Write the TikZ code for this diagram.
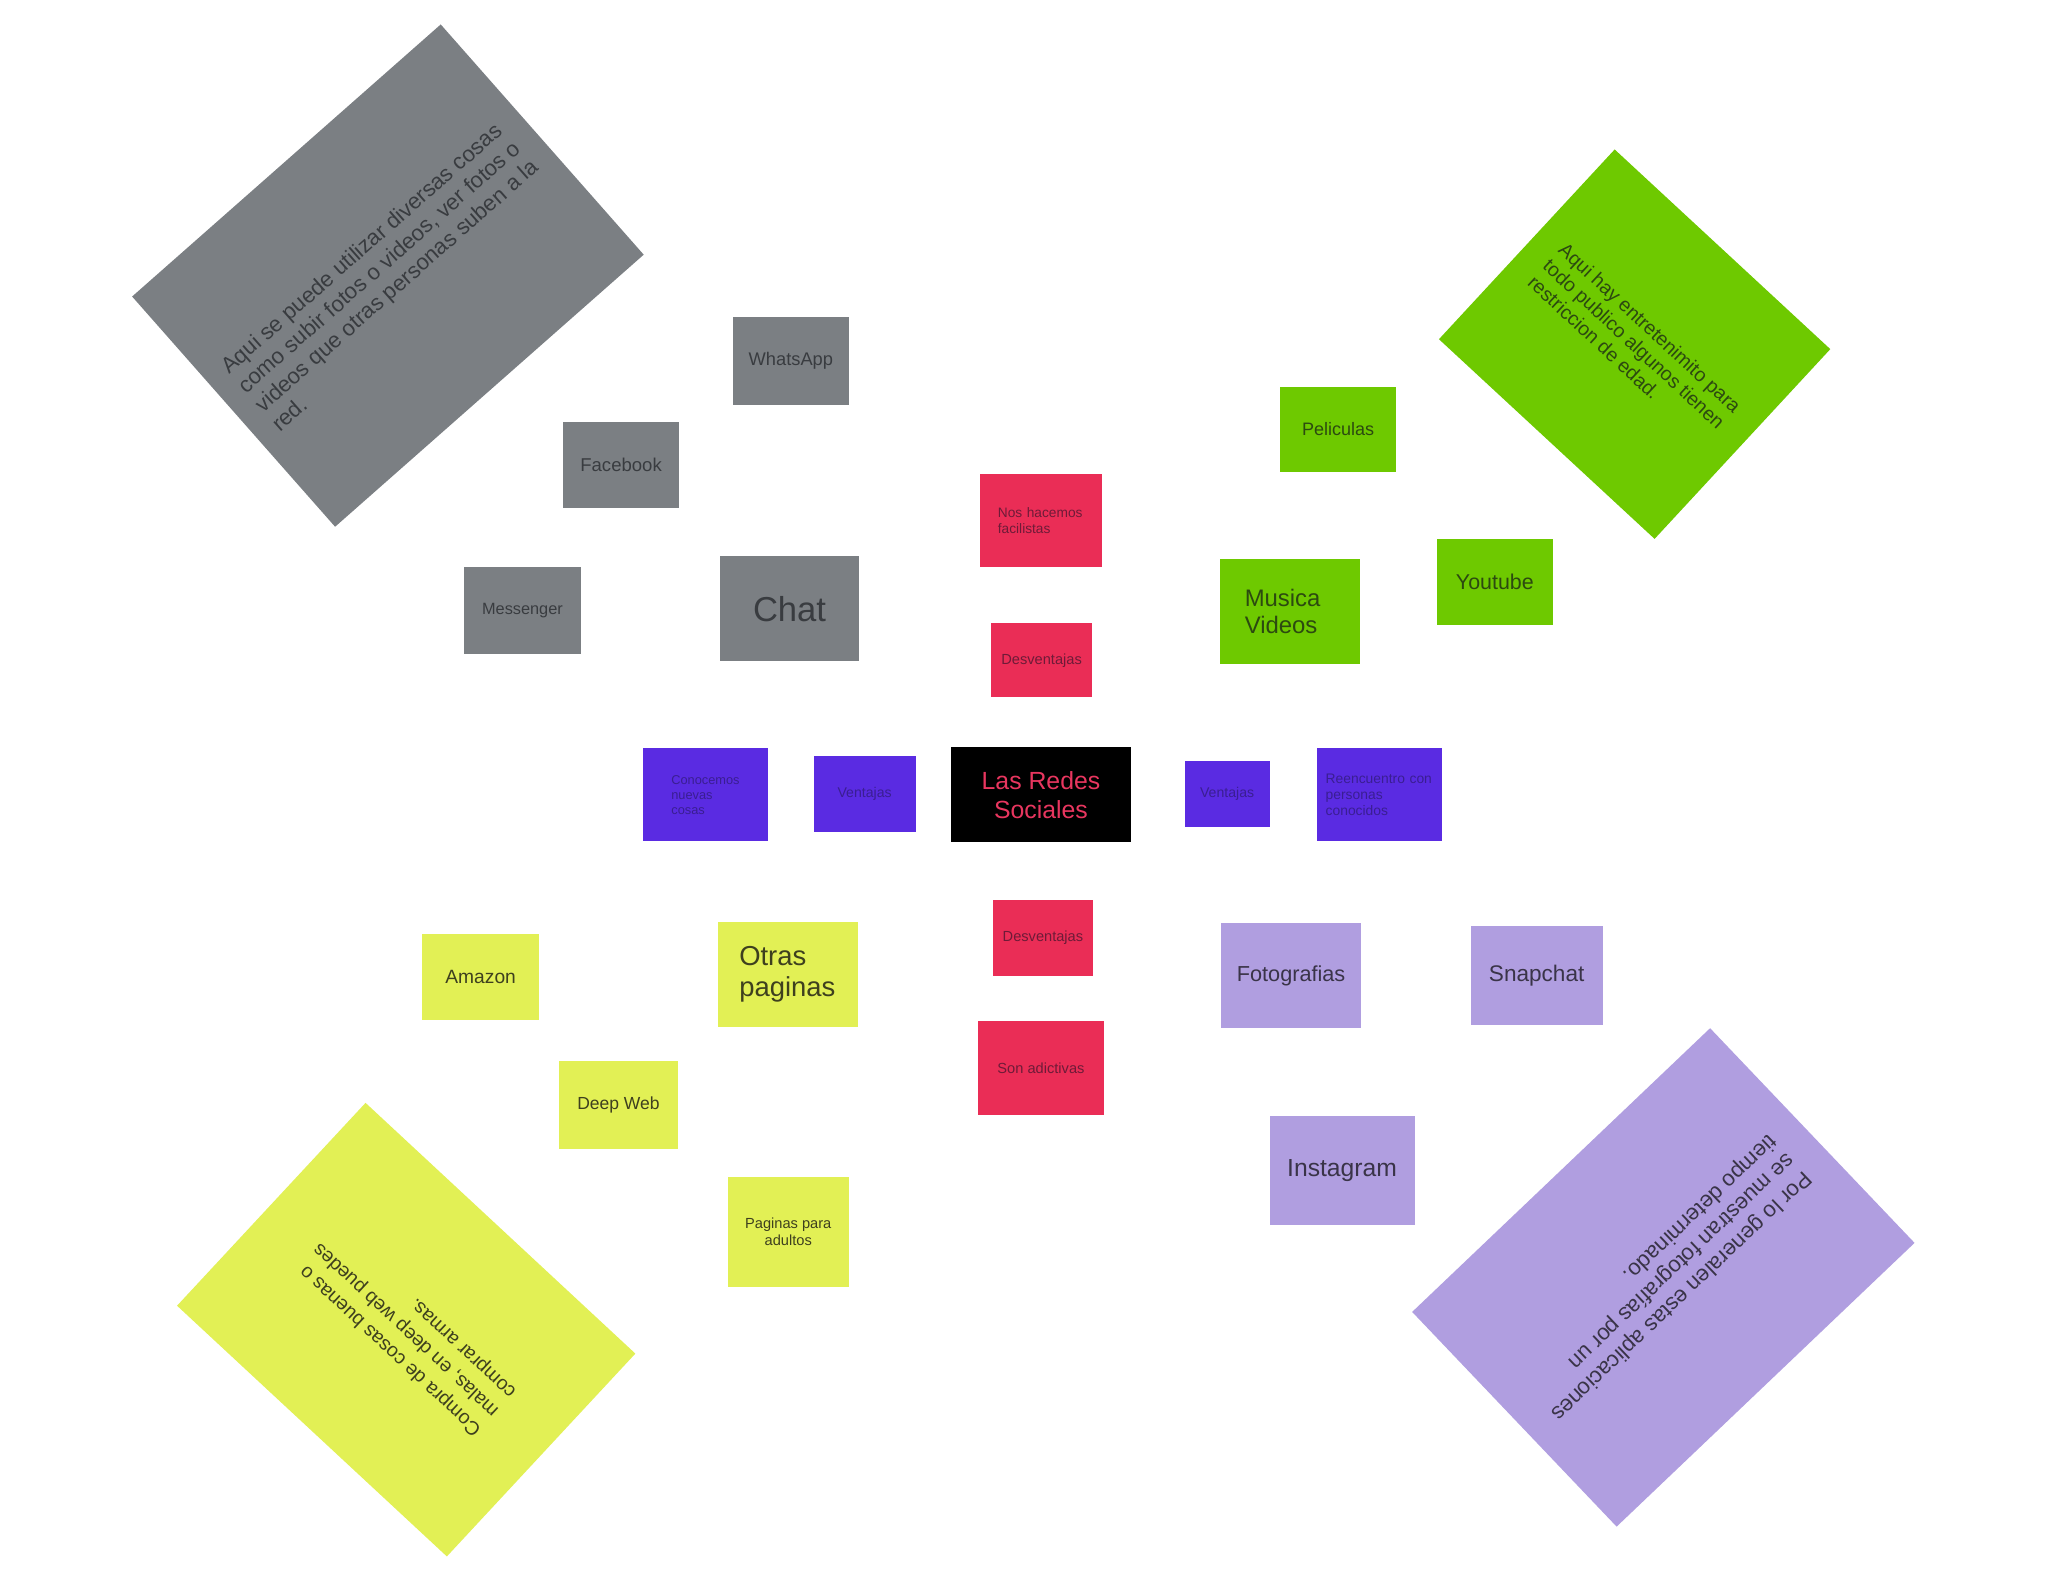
\documentclass[tikz,border=0pt]{standalone}
\usepackage{fontspec}
\setmainfont{Liberation Sans}
\newcommand{\fsz}[2]{\fontsize{#1}{#2}\selectfont}
\definecolor{cgray}{HTML}{7B7F83}
\definecolor{tgray}{HTML}{393C40}
\definecolor{cgreen}{HTML}{6EC900}
\definecolor{tgreen}{HTML}{2C4A10}
\definecolor{cred}{HTML}{EA2D56}
\definecolor{tred}{HTML}{6E1B38}
\definecolor{cblue}{HTML}{5A2BE2}
\definecolor{tblue}{HTML}{3A1E92}
\definecolor{cyellow}{HTML}{E2F055}
\definecolor{tyellow}{HTML}{3E401E}
\definecolor{clav}{HTML}{B09EE0}
\definecolor{tlav}{HTML}{3A3448}
\definecolor{tpink}{HTML}{E8365F}
\begin{document}
\begin{tikzpicture}[x=1pt,y=-1pt,
  card/.style={rectangle, inner sep=0pt, outer sep=0pt},
  grayc/.style={card, fill=cgray, text=tgray},
  greenc/.style={card, fill=cgreen, text=tgreen},
  redc/.style={card, fill=cred, text=tred},
  bluec/.style={card, fill=cblue, text=tblue},
  yellowc/.style={card, fill=cyellow, text=tyellow},
  lavc/.style={card, fill=clav, text=tlav},
  sz/.style 2 args={minimum width=#1pt, minimum height=#2pt}]
\useasboundingbox[fill=white] (0,0) rectangle (1568,1211);

% large rotated notes
\node[grayc, rotate=41.4, sz={315}{235}, align=left, font=\fsz{17}{19.5}] (gnote) at (297,211)
  {Aqui se puede utilizar diversas cosas\\como subir fotos o videos, ver fotos o\\videos que otras personas suben a la\\red.};
\node[greenc, rotate=-42.8, sz={225}{198}, align=left, font=\fsz{15}{17.3}] (vnote) at (1251.5,263.5)
  {Aqui hay entretenimito para\\todo publico algunos tienen\\restriccion de edad.};
\node[yellowc, rotate=137.1, sz={282}{212}, align=left, font=\fsz{15}{19.5}] (ynote) at (311,1018)
  {Compra de cosas buenas o\\malas, en deep web puedes\\comprar armas.};
\node[lavc, rotate=-136.4, sz={315}{227}, align=left, font=\fsz{17}{19.5}] (lnote) at (1273.5,978)
  {Por lo generalen estas aplicaciones\\se muestran fotografías por un\\tiempo determinado.};

% gray group
\node[grayc, sz={89}{67}, font=\fsz{14}{16}] (whatsapp) at (605.5,276.5) {WhatsApp};
\node[grayc, sz={89}{66}, font=\fsz{14.2}{16}] (facebook) at (475.5,356) {Facebook};
\node[grayc, sz={90}{67}, font=\fsz{12.5}{15}] (messenger) at (400,467.5) {Messenger};
\node[grayc, sz={107}{80}, font=\fsz{26.5}{30}] (chat) at (604.5,466) {Chat};

% red group
\node[redc, sz={94}{71}, text width=66pt, align=left, font=\fsz{10.5}{12}] (facil) at (797,398.5) {Nos hacemos\\facilistas};
\node[redc, sz={77}{57}, font=\fsz{11.2}{13}] (desv1) at (797.5,505.5) {Desventajas};
\node[redc, sz={77}{58}, font=\fsz{11.2}{13}] (desv2) at (798.5,718) {Desventajas};
\node[redc, sz={96}{72}, font=\fsz{11.2}{13}] (adict) at (797,818) {Son adictivas};

% centre row
\node[bluec, sz={96}{71}, text width=52pt, align=left, font=\fsz{9.8}{11.6}] (conoc) at (540,608.5) {Conocemos\\nuevas\\cosas};
\node[bluec, sz={78}{58}, font=\fsz{10.8}{13}] (vent1) at (662,608) {Ventajas};
\node[card, fill=black, text=tpink, sz={138}{73}, align=center, font=\fsz{19}{22}] (center) at (797,608.5) {Las Redes\\Sociales};
\node[bluec, sz={65}{50}, font=\fsz{10.8}{13}] (vent2) at (939.5,608) {Ventajas};
\node[bluec, sz={96}{71}, text width=82pt, align=left, font=\fsz{10.6}{12.5}] (reenc) at (1056,608.5) {Reencuentro con\\personas\\conocidos};

% green group
\node[greenc, sz={89}{65}, font=\fsz{13.8}{16}] (peliculas) at (1024.5,328.5) {Peliculas};
\node[greenc, sz={107}{80}, text width=69pt, align=left, font=\fsz{18.3}{21}] (musica) at (987.5,468) {Musica\\Videos};
\node[greenc, sz={89}{66}, font=\fsz{16.4}{19}] (youtube) at (1144.5,445.5) {Youtube};

% yellow group
\node[yellowc, sz={90}{66}, font=\fsz{14.7}{17}] (amazon) at (368,748) {Amazon};
\node[yellowc, sz={107}{80}, text width=75pt, align=left, font=\fsz{21}{24}] (otras) at (603.5,746) {Otras\\paginas};
\node[yellowc, sz={91}{68}, font=\fsz{13.4}{16}] (deepweb) at (473.5,846) {Deep Web};
\node[yellowc, sz={93}{84}, align=center, font=\fsz{11.2}{12.6}] (adultos) at (603.5,943) {Paginas para\\adultos};

% lavender group
\node[lavc, sz={107}{80}, font=\fsz{16.6}{19}] (fotos) at (988.5,747) {Fotografias};
\node[lavc, sz={101}{76}, font=\fsz{17.3}{20}] (snapchat) at (1176.5,747) {Snapchat};
\node[lavc, sz={111}{83}, font=\fsz{18.9}{22}] (instagram) at (1027.5,896) {Instagram};
\end{tikzpicture}
\end{document}
